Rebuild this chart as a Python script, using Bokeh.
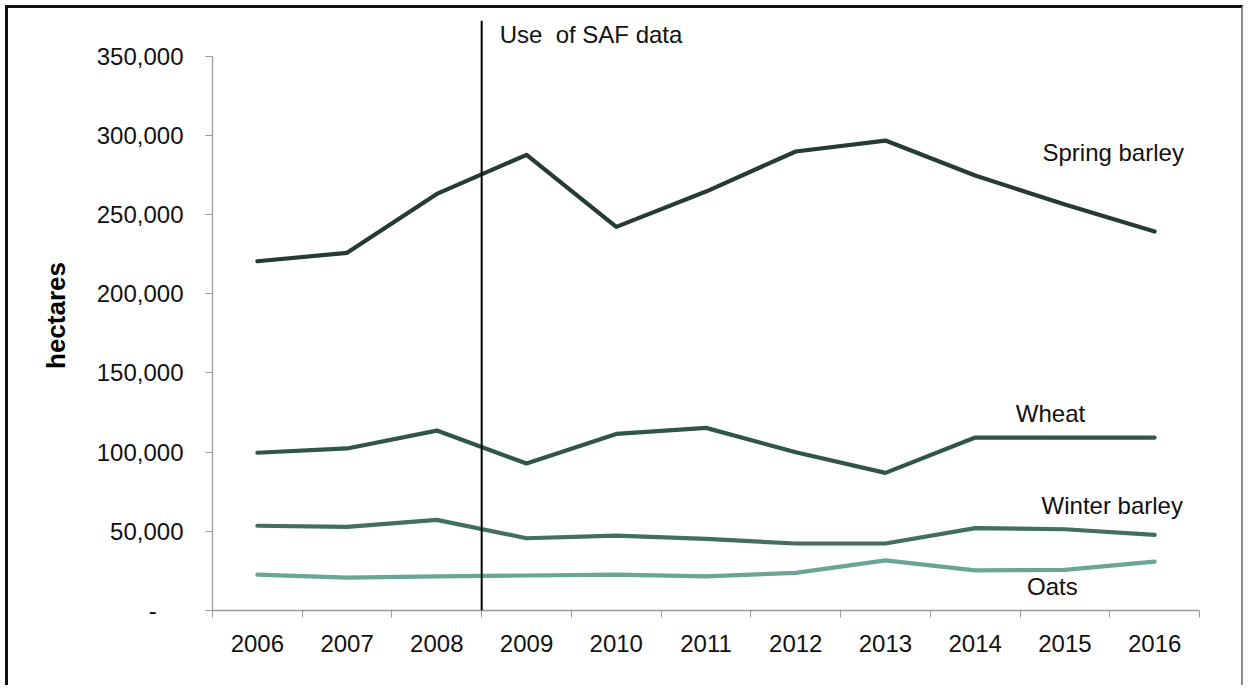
from bokeh.plotting import figure
from bokeh.models import (Range1d, FixedTicker, CustomJSTickFormatter, Span,
                          LinearAxis)
from bokeh.core.properties import value
from bokeh.embed import file_html
from bokeh.resources import INLINE

# Cropped area by crop type, hectares
years = ["2006", "2007", "2008", "2009", "2010", "2011",
         "2012", "2013", "2014", "2015", "2016"]
spring_barley = [220500, 225800, 263000, 287700, 242200, 264500,
                 289800, 296700, 274600, 256300, 239300]
wheat = [99600, 102300, 113600, 92800, 111500, 115300,
         99900, 86900, 109200, 109200, 109200]
winter_barley = [53500, 52800, 57200, 45600, 47300, 45200,
                 42300, 42300, 52000, 51300, 47800]
oats = [22700, 20800, 21500, 22100, 22700, 21500,
        23800, 31600, 25300, 25700, 30900]
y_ticks = [0, 50000, 100000, 150000, 200000, 250000, 300000, 350000]

series = [
    ("Spring barley", spring_barley, "#263b33"),
    ("Wheat", wheat, "#30564b"),
    ("Winter barley", winter_barley, "#426f62"),
    ("Oats", oats, "#6aa596"),
]

FONT = "Liberation Sans"
idx = list(range(len(years)))

p = figure(width=1238, height=680, output_backend="svg", toolbar_location=None,
           x_range=Range1d(-0.5, len(years) - 0.5),
           y_range=Range1d(0, 372500),
           min_border_left=204, min_border_right=47,
           min_border_top=12, min_border_bottom=78,
           x_axis_type=None, y_axis_type=None,
           background_fill_color="white", border_fill_color="white")
p.outline_line_color = None
p.styles = {"margin-left": "5px", "margin-top": "5px",
            "border-left": "3px solid #111111",
            "border-top": "3px solid #111111",
            "border-right": "2px solid #8a8a8a"}

# y axis
yaxis = LinearAxis(ticker=FixedTicker(ticks=y_ticks, minor_ticks=[]))
yaxis.formatter = CustomJSTickFormatter(code="""
    if (Math.round(tick) === 0) { return "-\\u2007\\u2007"; }
    return Math.round(tick).toString().replace(/\\B(?=(\\d{3})+(?!\\d))/g, ",");
""")
yaxis.bounds = (0, 350000)
yaxis.axis_line_color = "#9a9a9a"
yaxis.axis_line_width = 1.3
yaxis.major_tick_line_color = "#9a9a9a"
yaxis.major_tick_out = 7
yaxis.major_tick_in = 0
yaxis.major_label_standoff = 22
yaxis.major_label_text_font = FONT
yaxis.major_label_text_font_size = "24px"
yaxis.major_label_text_color = "#111111"
yaxis.axis_label = "hectares"
yaxis.axis_label_text_font = FONT
yaxis.axis_label_text_font_size = "26px"
yaxis.axis_label_text_font_style = "bold"
yaxis.axis_label_text_color = "#000000"
yaxis.axis_label_standoff = 23
p.add_layout(yaxis, "left")

# x axis: year labels at centres, tick marks between categories
boundaries = [i - 0.5 for i in range(len(years) + 1)]
xaxis = LinearAxis(ticker=FixedTicker(ticks=idx, minor_ticks=boundaries))
xaxis.formatter = CustomJSTickFormatter(args=dict(labels=years), code="""
    const i = Math.round(tick);
    return (i >= 0 && i < labels.length) ? labels[i] : "";
""")
xaxis.axis_line_color = "#9a9a9a"
xaxis.axis_line_width = 1.3
xaxis.major_tick_line_color = None
xaxis.minor_tick_line_color = "#9a9a9a"
xaxis.minor_tick_out = 7
xaxis.minor_tick_in = 0
xaxis.major_label_standoff = 17
xaxis.major_label_text_font = FONT
xaxis.major_label_text_font_size = "24px"
xaxis.major_label_text_color = "#111111"
p.add_layout(xaxis, "below")

# horizontal gridlines
p.ygrid.ticker = FixedTicker(ticks=y_ticks)
p.ygrid.grid_line_color = "#ababab"
p.ygrid.grid_line_width = 1.3
p.xgrid.visible = False

for name, vals, color in series:
    p.line(idx, vals, line_color=color, line_width=4.2, line_join="round",
           line_cap="round")

# change of data source between 2008 and 2009
p.add_layout(Span(location=2.5, dimension="height", line_color="black",
                  line_width=2))

text_kw = dict(text_font=value(FONT), text_font_size="24px",
               text_color="#111111", text_baseline="middle")
p.text(x=[2.7], y=[363600], text=["Use\u00a0 of SAF data"], text_align="left", **text_kw)
p.text(x=[8.75], y=[289100], text=["Spring barley"], text_align="left", **text_kw)
p.text(x=[8.84], y=[124400], text=["Wheat"], text_align="center", **text_kw)
p.text(x=[8.74], y=[66300], text=["Winter barley"], text_align="left", **text_kw)
p.text(x=[8.86], y=[15150], text=["Oats"], text_align="center", **text_kw)

open("out.html", "w").write(file_html(p, INLINE))
